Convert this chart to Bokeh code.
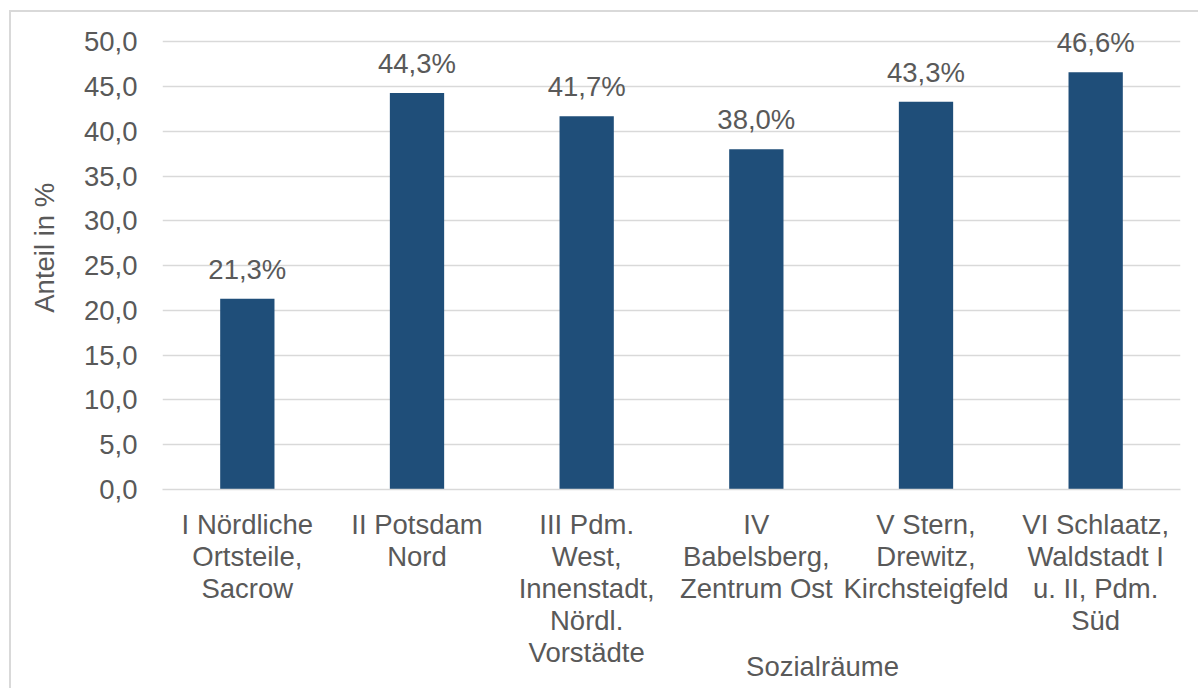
from bokeh.plotting import figure
from bokeh.models import ColumnDataSource, LabelSet, FixedTicker, LinearAxis
from bokeh.core.properties import value
from bokeh.embed import file_html
from bokeh.resources import INLINE

categories = [
    "I Nördliche\nOrtsteile,\nSacrow",
    "II Potsdam\nNord",
    "III Pdm.\nWest,\nInnenstadt,\nNördl.\nVorstädte",
    "IV\nBabelsberg,\nZentrum Ost",
    "V Stern,\nDrewitz,\nKirchsteigfeld",
    "VI Schlaatz,\nWaldstadt I\nu. II, Pdm.\nSüd",
]
values = [21.3, 44.3, 41.7, 38.0, 43.3, 46.6]
value_labels = ["21,3%", "44,3%", "41,7%", "38,0%", "43,3%", "46,6%"]
y_ticks = [0, 5, 10, 15, 20, 25, 30, 35, 40, 45, 50]
y_tick_labels = ["0,0", "5,0", "10,0", "15,0", "20,0", "25,0", "30,0", "35,0", "40,0", "45,0", "50,0"]
x_title = "Sozialräume"
y_title = "Anteil in %"

FONT = "Liberation Sans"
TXT = "#595959"
GRID = "#d9d9d9"
BAR = "#1F4E79"
FS = "27.5px"

# where the axis titles sit (in the chart's own coordinates)
X_TITLE_POS = 3.89   # along the category axis
Y_TITLE_POS = 27.0   # along the value axis

src = ColumnDataSource(dict(cat=categories, val=values, lab=value_labels))

p = figure(
    x_range=categories, y_range=(0, 52.5),
    width=1189, height=678,
    output_backend="svg", toolbar_location=None,
    min_border_left=151, min_border_top=7, min_border_right=20, min_border_bottom=201,
)
p.styles = {"margin-left": "9px", "margin-top": "10px",
            "border-left": "2px solid #d9d9d9", "border-top": "2px solid #d9d9d9"}
p.outline_line_color = None
p.background_fill_color = "white"
p.border_fill_color = "white"

p.vbar(x="cat", top="val", width=0.32, source=src, fill_color=BAR, line_color=None)

labels = LabelSet(x="cat", y="val", text="lab", source=src, y_offset=20,
                  text_align="center", text_baseline="alphabetic",
                  text_font=value(FONT), text_font_size=value(FS), text_color=TXT)
p.add_layout(labels)

# main axes
p.yaxis.ticker = FixedTicker(ticks=y_ticks)
p.yaxis.major_label_overrides = {t: l for t, l in zip(y_ticks, y_tick_labels)}
p.yaxis.axis_line_color = None
p.yaxis.major_tick_line_color = None
p.yaxis.minor_tick_line_color = None
p.yaxis.major_label_standoff = 19
p.yaxis.major_label_text_font = FONT
p.yaxis.major_label_text_font_size = FS
p.yaxis.major_label_text_color = TXT

p.xaxis.axis_line_color = GRID
p.xaxis.axis_line_width = 1.5
p.xaxis.major_tick_line_color = None
p.xaxis.minor_tick_line_color = None
p.xaxis.major_label_standoff = 13
p.xaxis.major_label_text_font = FONT
p.xaxis.major_label_text_font_size = FS
p.xaxis.major_label_text_color = TXT
p.xaxis.major_label_text_line_height = 1.04

p.xgrid.grid_line_color = None
p.ygrid.grid_line_color = GRID
p.ygrid.grid_line_width = 1.5

# axis titles, placed as single labelled ticks of extra axes
xt = LinearAxis(ticker=FixedTicker(ticks=[X_TITLE_POS]),
                major_label_overrides={X_TITLE_POS: x_title})
xt.axis_line_color = None
xt.major_tick_line_color = None
xt.minor_tick_line_color = None
xt.major_label_standoff = -27
xt.major_label_text_font = FONT
xt.major_label_text_font_size = FS
xt.major_label_text_color = TXT
p.add_layout(xt, "below")

yt = LinearAxis(ticker=FixedTicker(ticks=[Y_TITLE_POS]),
                major_label_overrides={Y_TITLE_POS: y_title})
yt.axis_line_color = None
yt.major_tick_line_color = None
yt.minor_tick_line_color = None
yt.major_label_orientation = "vertical"
yt.major_label_standoff = 14
yt.major_label_text_font = FONT
yt.major_label_text_font_size = FS
yt.major_label_text_color = TXT
p.add_layout(yt, "left")

open("out.html", "w").write(file_html(p, INLINE))
